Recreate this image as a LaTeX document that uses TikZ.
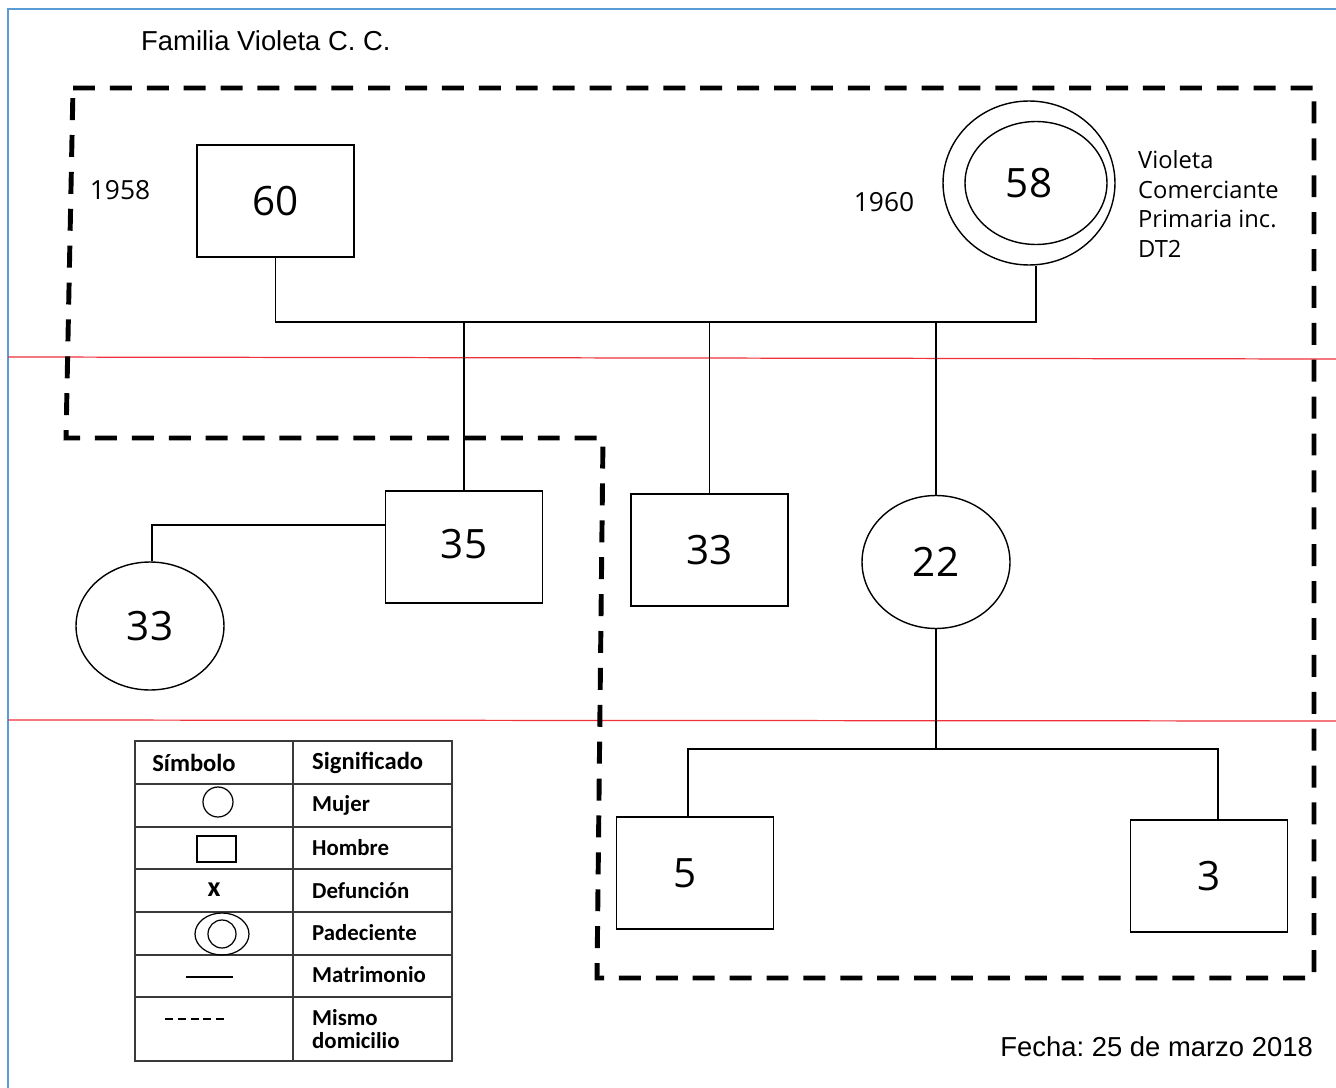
\documentclass[tikz,border=0pt]{standalone}
\usepackage{fontspec}
\setmainfont{Open Sans}
\newfontfamily\arialfont{Liberation Sans}
\newfontfamily\tablefont{Carlito}
\usepackage{tikz}
\usetikzlibrary{positioning, calc, shapes.geometric}
\definecolor{frameBlue}{HTML}{5B9BD5}
\definecolor{guideRed}{HTML}{F0303A}
\definecolor{tableGray}{HTML}{3A3A3A}
\frenchspacing

\begin{document}
\begin{tikzpicture}[x=0.02cm, y=-0.02cm,
  man/.style={draw, line width=0.8pt, minimum width=3.14cm, minimum height=2.24cm,
              inner sep=0pt, font=\fontsize{23}{26}\selectfont},
  woman/.style={draw, ellipse, line width=0.8pt, inner sep=0pt,
                minimum width=2.96cm, minimum height=2.66cm, font=\fontsize{23}{26}\selectfont},
  rel/.style={line width=0.8pt},
  home/.style={line width=2.8pt, dash pattern=on 12.5pt off 8.5pt},
  year/.style={font=\fontsize{15}{18}\selectfont},
  cell/.style={font=\tablefont\bfseries\fontsize{13}{15.5}\selectfont, anchor=west, align=left},
  head/.style={font=\tablefont\bfseries\fontsize{14}{17}\selectfont}
]
\useasboundingbox (0,0) rectangle (1336,1088);
% frame and guide lines
\draw[frameBlue, line width=1.3pt] (8,1088) -- (8,9) -- (1336,9);
\draw[guideRed, line width=0.7pt] (8,357) -- (1336,359);
\draw[guideRed, line width=0.7pt] (8,720) -- (1336,721);

\node[anchor=west, font=\arialfont\fontsize{15.6}{18}\selectfont] (title) at (135,41) {Familia Violeta C. C.};
\node[anchor=east, font=\arialfont\fontsize{15.6}{18}\selectfont] (fecha) at (1319,1047) {Fecha: 25 de marzo 2018};

% same household
\draw[home] (73,88) -- (1314,88) -- (1314,978) -- (597,978) -- (603,438) -- (66,438) -- cycle;

% parents
\node[man] (f60) at (275.5,201) {60};
\node[draw, ellipse, line width=0.8pt, minimum width=2.84cm, minimum height=2.46cm] (p58) at (1036,183) {};
\node[draw, ellipse, line width=0.8pt, minimum width=3.44cm, minimum height=3.28cm,
      font=\fontsize{23}{26}\selectfont] (p58out) at (1029,183) {58};
\node[year] (y1958) at (120,190) {1958};
\node[year] (y1960) at (884,202) {1960};
\node[anchor=west, align=left, font=\fontsize{13.5}{16.8}\selectfont] (info) at (1132,204)
  {Violeta\\Comerciante\\Primaria inc.\\DT2};

% children
\node[man] (c35) at (464,547) {\raisebox{0.14cm}{35}};
\node[man] (c33) at (709.5,550) {33};
\node[woman] (c22) at (936,562) {22};
\node[woman, minimum height=2.56cm] (w33) at (150,626) {33};

% grandchildren
\node[man] (g5) at (695,873) {\hspace*{-0.4cm}5};
\node[man] (g3) at (1209,876) {3};

\coordinate (j58) at (1036,322);
\draw[rel] (f60.south) |- (j58) -- (j58 |- p58out.south);
\draw[rel] (c35.north) -- (c35.north |- j58);
\draw[rel] (c33.north) -- (c33.north |- j58);
\draw[rel] (c22.north) -- (c22.north |- j58);
\draw[rel] ([yshift=0.44cm]c35.west) -| ([xshift=0.04cm]w33.north);
\coordinate (j22) at (936,749);
\draw[rel] (c22.south) -- (j22);
\draw[rel] ([xshift=-0.14cm]g5.north) |- (j22) -| ([xshift=0.18cm]g3.north);

% legend
\draw[tableGray, line width=1.1pt] (135,741) rectangle (452,1061);
\draw[tableGray, line width=1.1pt] (293,741) -- (293,1061);
\foreach \y in {784,827,869,912,955,997}
  \draw[tableGray, line width=1.1pt] (135,\y) -- (452,\y);
\node[head] (hsym) at (194,763) {Símbolo};
\node[head, anchor=west] (hsig) at (306,763) {Significado};
\node[cell] (lmujer) at (306,805) {Mujer};
\node[cell] (lhombre) at (306,848) {Hombre};
\node[cell] (ldef) at (306,891) {Defunción};
\node[cell] (lpad) at (306,933) {Padeciente};
\node[cell] (lmat) at (306,975) {Matrimonio};
\node[cell, font=\tablefont\bfseries\fontsize{13}{13.5}\selectfont] (ldom) at (306,1029) {Mismo\\domicilio};
\draw[line width=0.7pt] (218,802) circle [radius=0.3cm];
\draw[line width=0.7pt] (197,836) rectangle (236,862);
\node[font=\tablefont\bfseries\fontsize{16}{18}\selectfont] (sdef) at (214,890) {x};
\draw[line width=0.7pt] (222,934) ellipse [x radius=0.54cm, y radius=0.42cm];
\draw[line width=0.7pt] (222,934) circle [radius=0.28cm];
\draw[line width=0.7pt] (186,977) -- (233,977);
\draw[line width=0.8pt, dash pattern=on 4.5pt off 2.8pt] (165,1019) -- (225,1019);
\end{tikzpicture}
\end{document}
